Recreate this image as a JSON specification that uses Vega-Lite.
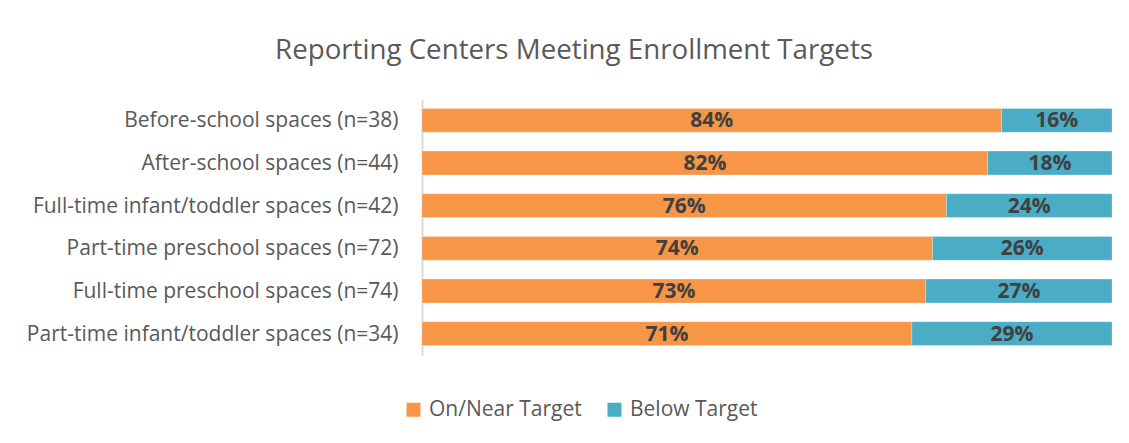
{
  "$schema": "https://vega.github.io/schema/vega-lite/v6.json",
  "autosize": "none",
  "width": 690,
  "height": 256,
  "padding": {"left": 422, "top": 99, "right": 17, "bottom": 88},
  "background": "white",
  "config": {"view": {"stroke": null}, "font": "Open Sans"},
  "title": {
    "text": "Reporting Centers Meeting Enrollment Targets",
    "anchor": "middle",
    "frame": "group",
    "dx": -193,
    "offset": 12,
    "baseline": "alphabetic",
    "fontSize": 27.7,
    "font": "Open Sans",
    "fontWeight": "normal",
    "color": "#595959"
  },
  "data": {
    "values": [
      {"category": "Before-school spaces (n=38)", "series": "On/Near Target", "value": 0.84, "label": "84%"},
      {"category": "Before-school spaces (n=38)", "series": "Below Target", "value": 0.16, "label": "16%"},
      {"category": "After-school spaces (n=44)", "series": "On/Near Target", "value": 0.82, "label": "82%"},
      {"category": "After-school spaces (n=44)", "series": "Below Target", "value": 0.18, "label": "18%"},
      {"category": "Full-time infant/toddler spaces (n=42)", "series": "On/Near Target", "value": 0.76, "label": "76%"},
      {"category": "Full-time infant/toddler spaces (n=42)", "series": "Below Target", "value": 0.24, "label": "24%"},
      {"category": "Part-time preschool spaces (n=72)", "series": "On/Near Target", "value": 0.74, "label": "74%"},
      {"category": "Part-time preschool spaces (n=72)", "series": "Below Target", "value": 0.26, "label": "26%"},
      {"category": "Full-time preschool spaces (n=74)", "series": "On/Near Target", "value": 0.73, "label": "73%"},
      {"category": "Full-time preschool spaces (n=74)", "series": "Below Target", "value": 0.27, "label": "27%"},
      {"category": "Part-time infant/toddler spaces (n=34)", "series": "On/Near Target", "value": 0.71, "label": "71%"},
      {"category": "Part-time infant/toddler spaces (n=34)", "series": "Below Target", "value": 0.29, "label": "29%"}
    ]
  },
  "transform": [
    {"stack": "value", "groupby": ["category"], "sort": [{"field": "series", "order": "descending"}], "as": ["x0", "x1"]},
    {"calculate": "(datum.x0 + datum.x1) / 2", "as": "mid"}
  ],
  "encoding": {
    "y": {
      "field": "category",
      "type": "nominal",
      "sort": null,
      "scale": {"paddingInner": 0.44, "paddingOuter": 0.22},
      "axis": {
        "title": null,
        "ticks": false,
        "domain": true,
        "domainColor": "#d9d9d9",
        "domainWidth": 2,
        "labelFont": "Open Sans",
        "labelFontSize": 21,
        "labelColor": "#595959",
        "labelPadding": 24,
        "labelOffset": 1,
        "labelLimit": 500
      }
    }
  },
  "layer": [
    {
      "mark": {"type": "bar", "stroke": "white", "strokeWidth": 0.5, "strokeOpacity": 0.5},
      "encoding": {
        "x": {"field": "x0", "type": "quantitative", "scale": {"domain": [0, 1], "nice": false}, "axis": null},
        "x2": {"field": "x1"},
        "color": {
          "field": "series",
          "type": "nominal",
          "scale": {"domain": ["On/Near Target", "Below Target"], "range": ["#F79646", "#4BACC6"]},
          "legend": {
            "title": null,
            "orient": "none",
            "direction": "horizontal",
            "legendX": -19,
            "legendY": 300,
            "symbolType": "square",
            "symbolSize": 196,
            "symbolStrokeWidth": 0,
            "labelFont": "Open Sans",
            "labelFontSize": 21,
            "labelColor": "#595959",
            "labelOffset": 5,
            "columnPadding": 22,
            "padding": 0
          }
        }
      }
    },
    {
      "mark": {"type": "text", "fontWeight": "bold", "fontSize": 21, "font": "Open Sans", "color": "#404040", "baseline": "middle", "dy": 1},
      "encoding": {
        "x": {"field": "mid", "type": "quantitative"},
        "text": {"field": "label"}
      }
    }
  ]
}
